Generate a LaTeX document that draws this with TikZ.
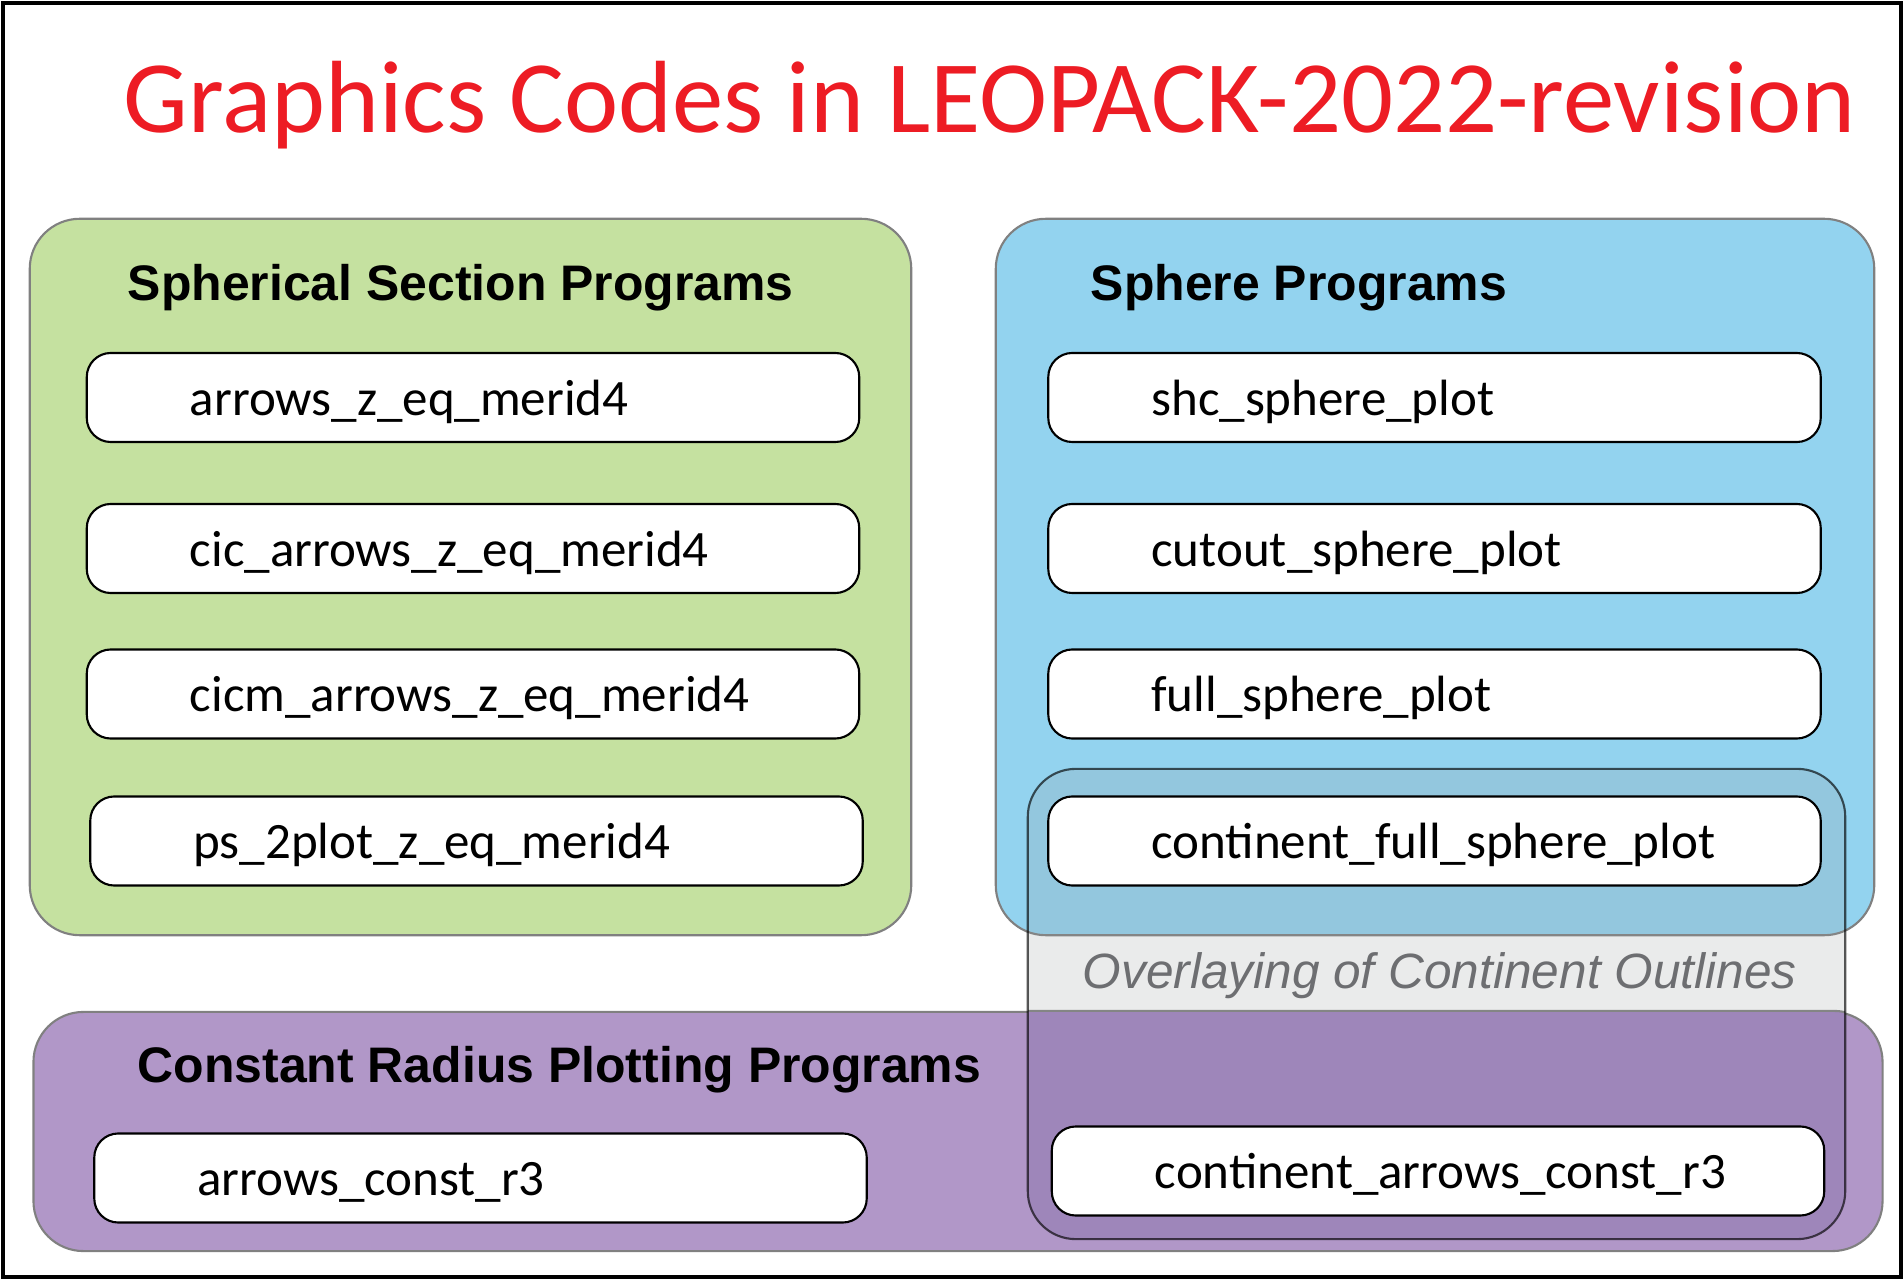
\documentclass[tikz,border=0pt]{standalone}
\usepackage{fontspec}
\setmainfont{Carlito}
\newfontfamily\headfont{Liberation Sans}
\usepackage{tikz}
\usepackage{xcolor}
\definecolor{titlered}{HTML}{ED1C24}
\definecolor{secgreen}{HTML}{C5E1A0}
\definecolor{sphblue}{HTML}{93D3EF}
\definecolor{radpurple}{HTML}{B197C8}
\definecolor{overpurple}{HTML}{A181C2}
\definecolor{overgray}{HTML}{6D6E71}

\begin{document}
\begin{tikzpicture}[
  x=0.01cm, y=-0.01cm,
  % big rounded groups
  group/.style={draw=gray, line width=0.6pt, rounded corners=0.5cm, inner sep=0pt},
  % white program boxes, text starts at the left
  prog/.style={draw=black, fill=white, line width=0.6pt, rounded corners=0.24cm,
    minimum width=7.72cm, minimum height=0.89cm, inner ysep=0pt, inner xsep=1.03cm,
    text width=5.66cm, text height=0.4cm, text depth=0.05cm,
    execute at begin node={\hyphenpenalty=10000\relax},
    font=\fontsize{14.5}{17}\selectfont},
  head/.style={inner sep=0pt, anchor=base west, font=\headfont\bfseries\fontsize{14.2}{17}\selectfont}
]
\useasboundingbox (0,0) rectangle (1904,1280);
\draw[line width=1pt] (3,3) rectangle (1901,1277);  % frame

\node[inner sep=0pt, anchor=base west, text=titlered, font=\fontsize{29.2}{34}\selectfont]
  (title) at (123,133) {Graphics Codes in LEOPACK-2022-revision};

% groups
\node[group, fill=secgreen, minimum width=8.81cm, minimum height=7.16cm] (secgroup) at (470.5,577) {};
\node[group, fill=sphblue, minimum width=8.78cm, minimum height=7.16cm] (sphgroup) at (1435,577) {};
\node[group, fill=radpurple, minimum width=18.48cm, minimum height=2.39cm] (radgroup) at (958,1131.5) {};

% darker purple under the overlay
\begin{scope}
  \clip[rounded corners=0.48cm] (1028,769) rectangle (1845,1239);
  \filldraw[draw=gray, line width=0.6pt, fill=overpurple, rounded corners=0.5cm]
    (radgroup.north west) rectangle (radgroup.south east);
\end{scope}

% overlay of continent outlines
\node[draw=black, draw opacity=0.65, line width=0.6pt, rounded corners=0.48cm,
  fill={rgb,255:red,150;green,155;blue,155}, fill opacity=0.2,
  minimum width=8.17cm, minimum height=4.7cm, inner sep=0pt] (overlay) at (1436.5,1004) {};

\node[head] (sechead) at (127,301) {Spherical Section Programs};
\node[head] (sphhead) at (1090,301) {Sphere Programs};
\node[head] (radhead) at (137,1082) {Constant Radius Plotting Programs};
\node[inner sep=0pt, anchor=base west, text=overgray,
  font=\headfont\itshape\fontsize{14.1}{17}\selectfont] (overtext) at (1082,988) {Overlaying of Continent Outlines};

% spherical section programs
\node[prog] (azm) at (473,397.5) {arrows\_z\_eq\_merid4};
\node[prog] (cazm) at (473,548.5) {cic\_arrows\_z\_eq\_merid4};
\node[prog] (cmazm) at (473,694) {cicm\_arrows\_z\_eq\_merid4};
\node[prog] (pszm) at (476.5,841) {ps\_2plot\_z\_eq\_merid4};

% sphere programs
\node[prog] (shc) at (1434.5,397.5) {shc\_sphere\_plot};
\node[prog] (cut) at (1434.5,548.5) {cutout\_sphere\_plot};
\node[prog] (full) at (1434.5,694) {full\_sphere\_plot};
\node[prog] (cfull) at (1434.5,841) {continent\_full\_sphere\_plot};

% constant radius programs
\node[prog] (acr) at (480.5,1178) {arrows\_const\_r3};
\node[prog] (cacr) at (1438,1171) {continent\_arrows\_const\_r3};

\end{tikzpicture}
\end{document}
